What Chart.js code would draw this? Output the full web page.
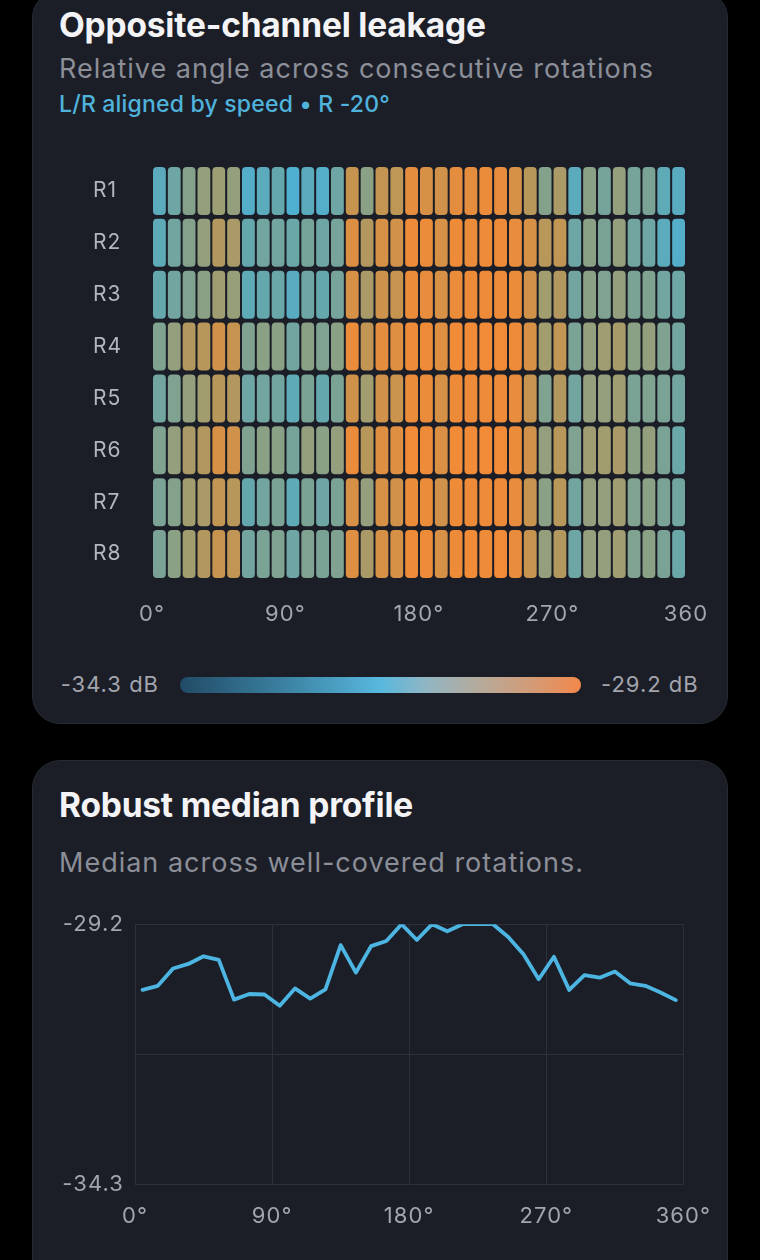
<!DOCTYPE html>
<html>
<head>
<meta charset="utf-8">
<script src="https://cdn.jsdelivr.net/npm/chart.js@4/dist/chart.umd.min.js"></script>
<style>
  html, body { margin:0; padding:0; background:#000; }
  body { width:760px; height:1260px; overflow:hidden; position:relative; font-family:Inter, "Noto Sans", sans-serif; }
  .card { position:absolute; left:32px; width:696px; background:#1b1e27; border:1px solid #262a33; border-radius:28px; box-sizing:border-box; }
  .t { position:absolute; left:59px; white-space:nowrap; line-height:1; }
  .title { font-weight:700; font-size:33.5px; color:#f4f4f6; letter-spacing:-0.2px; }
  .sub { font-size:27px; color:#8c8e98; letter-spacing:1px; }
  .tag { font-size:23px; color:#4fb3dc; font-weight:500; letter-spacing:0.2px; }
  .cb-label { position:absolute; font-size:22px; color:#a3a5ad; line-height:1; white-space:nowrap; letter-spacing:1px; }
  #cbar { position:absolute; left:180px; top:677px; width:401px; height:16px; border-radius:8px;
    background:linear-gradient(90deg,#214b66 0%,#3a7f9f 25%,#58b8de 50%,#93b5c2 62%,#b6aa9a 75%,#d49a76 88%,#f2884a 100%); }
  canvas { position:absolute; }
</style>
</head>
<body>
<div class="card" style="top:-10px;height:734px;"></div>
<div class="card" style="top:760px;height:560px;"></div>

<div class="t title" style="top:9px;">Opposite-channel leakage</div>
<div class="t sub" style="top:55px;">Relative angle across consecutive rotations</div>
<div class="t tag" style="top:93px;">L/R aligned by speed • R -20°</div>

<canvas id="heat" width="696" height="490" style="left:32px;top:150px;"></canvas>

<div class="cb-label" style="right:601px;top:673px;">-34.3 dB</div>
<div id="cbar"></div>
<div class="cb-label" style="left:601px;top:673px;">-29.2 dB</div>

<div class="t title" style="top:789px;">Robust median profile</div>
<div class="t sub" style="top:849px;">Median across well-covered rotations.</div>

<canvas id="line" width="696" height="360" style="left:32px;top:900px;"></canvas>

<script>
// ---------- data ----------
const ROWS = ['R1','R2','R3','R4','R5','R6','R7','R8'];
const BIN_START = [0,10,20,30,40,50,60,70,80,90,100,110,120,130,140,150,160,170,180,190,200,210,220,230,240,250,260,270,280,290,300,310,320,330,340,350];
const BIN_END   = [10,20,30,40,50,60,70,80,90,100,110,120,130,140,150,160,170,180,190,200,210,220,230,240,250,260,270,280,290,300,310,320,330,340,350,360];
const DB_MIN = -34.3;
const DB_MAX = -29.2;

const LEAK_R1 = [-31.50,-31.24,-30.99,-30.83,-30.73,-30.83,-31.65,-31.50,-31.34,-31.75,-31.50,-31.65,-31.24,-29.97,-30.93,-30.02,-30.12,-29.46,-29.71,-29.81,-29.46,-29.46,-29.35,-29.40,-29.71,-30.22,-30.99,-30.48,-31.50,-30.93,-31.14,-30.83,-31.14,-31.09,-31.44,-31.55];
const LEAK_R2 = [-31.44,-31.19,-30.99,-30.83,-30.32,-30.48,-31.34,-31.19,-31.19,-31.29,-31.14,-31.24,-31.14,-29.61,-30.32,-29.71,-29.81,-29.30,-29.35,-29.71,-29.30,-29.35,-29.30,-29.30,-29.40,-29.71,-30.22,-30.07,-31.24,-30.93,-31.09,-30.83,-31.19,-31.24,-31.50,-31.65];
const LEAK_R3 = [-31.34,-31.19,-31.04,-30.93,-30.68,-30.78,-31.44,-31.34,-31.29,-31.55,-31.24,-31.34,-31.14,-29.71,-30.48,-29.86,-29.97,-29.35,-29.40,-29.71,-29.35,-29.30,-29.30,-29.30,-29.35,-29.81,-30.63,-30.32,-31.19,-30.93,-31.04,-30.83,-31.09,-31.04,-31.19,-31.24];
const LEAK_R4 = [-31.04,-30.83,-30.32,-30.22,-29.81,-29.97,-31.04,-30.93,-30.93,-31.19,-30.93,-31.04,-30.93,-29.35,-30.07,-29.46,-29.56,-29.30,-29.30,-29.56,-29.25,-29.25,-29.25,-29.25,-29.30,-29.71,-30.63,-30.07,-31.09,-30.83,-30.68,-30.53,-30.93,-30.83,-31.04,-31.19];
const LEAK_R5 = [-31.19,-31.04,-30.83,-30.63,-30.22,-30.32,-31.24,-31.19,-31.19,-31.44,-31.09,-31.34,-31.09,-29.81,-30.63,-29.81,-29.91,-29.35,-29.35,-29.71,-29.30,-29.30,-29.30,-29.30,-29.40,-29.97,-31.04,-30.32,-31.19,-30.83,-30.83,-30.68,-31.09,-31.04,-31.09,-31.19];
const LEAK_R6 = [-31.04,-30.83,-30.48,-30.32,-29.71,-29.81,-31.04,-30.93,-30.93,-31.14,-30.83,-30.93,-30.83,-29.35,-30.22,-29.56,-29.56,-29.25,-29.30,-29.66,-29.25,-29.25,-29.25,-29.25,-29.35,-29.81,-30.83,-30.22,-31.04,-30.68,-30.63,-30.48,-30.93,-30.83,-31.09,-31.29];
const LEAK_R7 = [-31.09,-30.99,-30.63,-30.48,-30.07,-30.22,-31.34,-31.19,-31.09,-31.44,-31.09,-31.24,-31.09,-29.71,-30.83,-29.71,-29.81,-29.35,-29.35,-29.81,-29.30,-29.30,-29.30,-29.30,-29.40,-29.97,-30.93,-30.22,-31.19,-30.83,-30.83,-30.68,-31.04,-30.93,-31.09,-31.19];
const LEAK_R8 = [-31.09,-30.93,-30.63,-30.32,-29.97,-30.07,-31.19,-31.09,-31.04,-31.24,-31.04,-31.09,-31.04,-29.56,-30.48,-29.71,-29.71,-29.30,-29.30,-29.71,-29.30,-29.25,-29.30,-29.25,-29.40,-29.97,-30.83,-30.32,-31.24,-30.83,-30.83,-30.68,-31.04,-30.93,-31.09,-31.29];
const LEAK_ROWS = [LEAK_R1, LEAK_R2, LEAK_R3, LEAK_R4, LEAK_R5, LEAK_R6, LEAK_R7, LEAK_R8];

const HEAT_X_TICKS = [0, 90, 180, 270, 360];
const HEAT_X_LABELS = ['0°', '90°', '180°', '270°', '360'];

const MEDIAN_ANGLES = [5,15,25,35,45,55,65,75,85,95,105,115,125,135,145,155,165,175,185,195,205,215,225,235,245,255,265,275,285,295,305,315,325,335,345,355];
const MEDIAN_DB = [-30.49,-30.41,-30.07,-29.98,-29.83,-29.90,-30.68,-30.57,-30.58,-30.80,-30.46,-30.66,-30.48,-29.61,-30.15,-29.63,-29.53,-29.20,-29.51,-29.20,-29.34,-29.20,-29.20,-29.20,-29.45,-29.79,-30.28,-29.84,-30.49,-30.20,-30.25,-30.13,-30.36,-30.41,-30.54,-30.69];

const LINE_X_TICKS = [0, 90, 180, 270, 360];
const LINE_X_LABELS = ['0°', '90°', '180°', '270°', '360°'];
const LINE_Y_TICKS = [-34.3, -31.75, -29.2];
const LINE_Y_LABELS = ['-34.3', '', '-29.2'];

// ---------- styling ----------
const CARD_BG = '#1b1e27';
const TICK_COLOR = '#a3a5ad';
const CELL_STOPS = [
  [0.00, [29, 64, 88]],
  [0.50, [79, 176, 210]],
  [0.58, [100, 168, 174]],
  [0.64, [128, 162, 144]],
  [0.70, [156, 158, 116]],
  [0.78, [178, 152, 94]],
  [0.88, [208, 146, 74]],
  [1.00, [244, 138, 54]]
];
function cellColor(v) {
  let t = (v - DB_MIN) / (DB_MAX - DB_MIN);
  t = Math.max(0, Math.min(1, t));
  for (let i = 1; i < CELL_STOPS.length; i++) {
    const [t1, c1] = CELL_STOPS[i];
    const [t0, c0] = CELL_STOPS[i - 1];
    if (t <= t1) {
      const f = (t - t0) / (t1 - t0);
      const c = c0.map((a, k) => Math.round(a + (c1[k] - a) * f));
      return `rgb(${c[0]},${c[1]},${c[2]})`;
    }
  }
  return 'rgb(244,138,54)';
}

Chart.defaults.font.family = 'Inter, "Noto Sans", sans-serif';
Chart.defaults.animation = false;

const spacingPlugin = {
  id: 'labelSpacing',
  beforeDraw(chart) { chart.ctx.letterSpacing = '1.1px'; }
};

// ---------- heatmap ----------
const heatDatasets = BIN_START.map((start, ci) => ({
  data: ROWS.map(() => [start, BIN_END[ci]]),
  backgroundColor: LEAK_ROWS.map(row => cellColor(row[ci])),
  borderColor: CARD_BG,
  borderWidth: 1,
  borderSkipped: false,
  borderRadius: 5,
  inflateAmount: 0,
  barPercentage: 0.965,
  categoryPercentage: 1,
  grouped: false
}));

new Chart(document.getElementById('heat'), {
  type: 'bar',
  data: { labels: ROWS, datasets: heatDatasets },
  plugins: [spacingPlugin],
  options: {
    responsive: false,
    indexAxis: 'y',
    layout: { padding: { top: 15, right: 42, left: 61, bottom: 0 } },
    plugins: { legend: { display: false }, tooltip: { enabled: false } },
    scales: {
      x: {
        type: 'linear', min: 0, max: 360,
        grid: { display: false, drawTicks: false },
        border: { display: false },
        afterBuildTicks: s => { s.ticks = HEAT_X_TICKS.map(v => ({ value: v })); },
        ticks: {
          padding: 21, color: TICK_COLOR, font: { size: 22 }, maxRotation: 0, autoSkip: false,
          callback: (v) => HEAT_X_LABELS[HEAT_X_TICKS.indexOf(v)]
        },
        afterFit: s => { s.height = 60; }
      },
      y: {
        type: 'category',
        grid: { display: false, drawTicks: false },
        border: { display: false },
        ticks: { padding: 0, crossAlign: 'far', color: '#b4b6bd', font: { size: 21 } },
        afterFit: s => { s.width = 59; }
      }
    }
  }
});

// ---------- median line ----------
new Chart(document.getElementById('line'), {
  type: 'line',
  data: {
    datasets: [{
      data: MEDIAN_ANGLES.map((a, i) => ({ x: a, y: MEDIAN_DB[i] })),
      borderColor: '#4db5e1',
      borderWidth: 3.8,
      pointRadius: 0,
      tension: 0,
      fill: false,
      borderJoinStyle: 'round',
      borderCapStyle: 'round'
    }]
  },
  plugins: [spacingPlugin],
  options: {
    responsive: false,
    layout: { padding: { top: 23, right: 42, left: 0, bottom: 0 } },
    plugins: { legend: { display: false }, tooltip: { enabled: false } },
    scales: {
      x: {
        type: 'linear', min: 0, max: 360,
        grid: { color: '#2c303a', lineWidth: 1, drawTicks: false },
        border: { display: false },
        afterBuildTicks: s => { s.ticks = LINE_X_TICKS.map(v => ({ value: v })); },
        ticks: {
          padding: 19, color: TICK_COLOR, font: { size: 22 }, maxRotation: 0, autoSkip: false,
          callback: (v) => LINE_X_LABELS[LINE_X_TICKS.indexOf(v)]
        },
        afterFit: s => { s.height = 76; }
      },
      y: {
        type: 'linear', min: DB_MIN, max: DB_MAX,
        grid: { color: '#2c303a', lineWidth: 1, drawTicks: false },
        border: { display: false },
        afterBuildTicks: s => { s.ticks = LINE_Y_TICKS.map(v => ({ value: v })); },
        ticks: {
          padding: 11, color: TICK_COLOR, font: { size: 22 }, autoSkip: false,
          callback: (v) => LINE_Y_LABELS[LINE_Y_TICKS.indexOf(v)]
        },
        afterFit: s => { s.width = 103; }
      }
    }
  }
});
</script>
</body>
</html>
